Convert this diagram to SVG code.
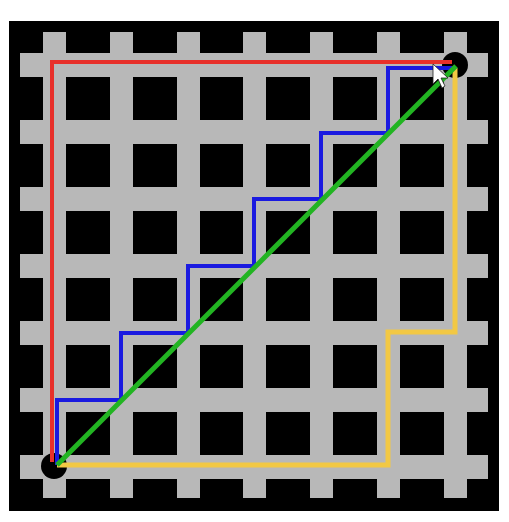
<svg xmlns="http://www.w3.org/2000/svg" width="509" height="522" viewBox="0 0 509 522">
<style>
.v{fill:#b8b8b8;width:23px;height:466px}
.h{fill:#b8b8b8;width:468px;height:24px}
.p{fill:none;stroke-linejoin:miter;stroke-linecap:butt}
</style>
<rect width="509" height="522" fill="#fff"/>
<rect x="9" y="21" width="490" height="490" fill="#000"/>
<g id="grid">
<rect class="v" x="43" y="32" width="23" height="466"/>
<rect class="v" x="110" y="32" width="23" height="466"/>
<rect class="v" x="177" y="32" width="23" height="466"/>
<rect class="v" x="243" y="32" width="23" height="466"/>
<rect class="v" x="310" y="32" width="23" height="466"/>
<rect class="v" x="377" y="32" width="23" height="466"/>
<rect class="v" x="444" y="32" width="23" height="466"/>
<rect class="h" x="20" y="53" width="468" height="24"/>
<rect class="h" x="20" y="120" width="468" height="24"/>
<rect class="h" x="20" y="187" width="468" height="24"/>
<rect class="h" x="20" y="254" width="468" height="24"/>
<rect class="h" x="20" y="321" width="468" height="24"/>
<rect class="h" x="20" y="388" width="468" height="24"/>
<rect class="h" x="20" y="455" width="468" height="24"/>
</g>
<g id="start"><circle cx="54" cy="466" r="13" fill="#000"/></g>
<g id="end"><circle cx="455" cy="65" r="13" fill="#000"/></g>
<g id="connectors">
<path class="p" d="M52,462 V62 H452" stroke="#e8302a" stroke-width="4"/>
<path class="p" d="M57,465 V400 H121 V333 H188 V266 H254 V199 H321 V133 H388 V68 H455" stroke="#1a1ae0" stroke-width="4"/>
<path class="p" d="M57,465 H388 V332 H455 V68" stroke="#f2c844" stroke-width="5"/>
<path class="p" d="M57,465 L456,66" stroke="#22b422" stroke-width="5"/>
</g>
<polygon points="433,64 433,84 438,79 442,88 445,86 441,78 448,78" fill="#fff" stroke="#222" stroke-width="0.8"/>
</svg>
